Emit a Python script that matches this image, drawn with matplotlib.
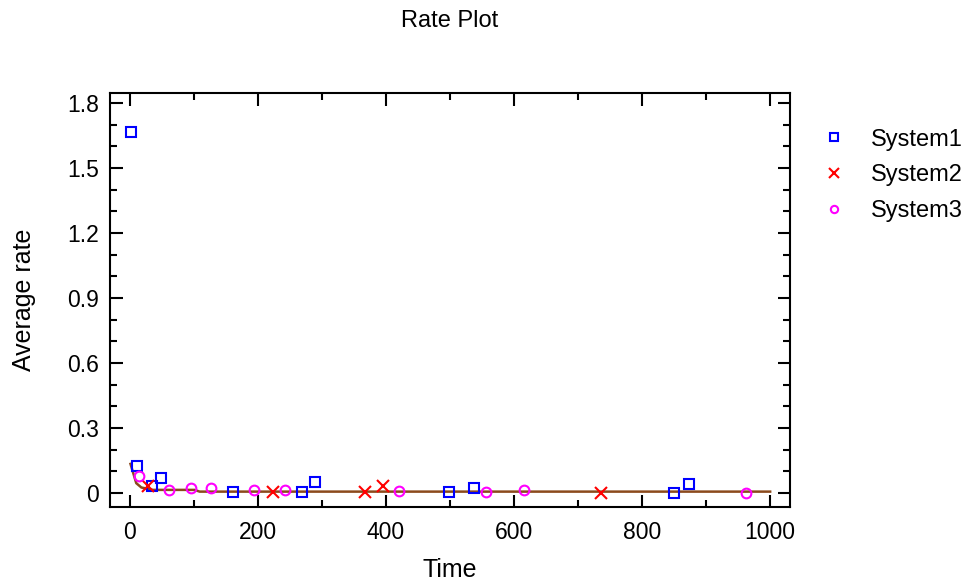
import matplotlib
matplotlib.use("Agg")
import matplotlib.pyplot as plt
from matplotlib.ticker import MultipleLocator

plt.rcParams['font.family'] = ['Liberation Sans', 'DejaVu Sans']

# data
sys1_time = [2, 11, 34, 48, 161, 269, 289, 498, 538, 850, 873]
sys1_rate = [1.667, 0.125, 0.034, 0.070, 0.006, 0.006, 0.050, 0.006, 0.025, 0.0, 0.042]

sys2_time = [29, 223, 367, 395, 736]
sys2_rate = [0.034, 0.003, 0.003, 0.032, 0.0]

sys3_time = [14, 61, 95, 127, 194, 242, 420, 557, 616, 963]
sys3_rate = [0.078, 0.014, 0.023, 0.023, 0.015, 0.014, 0.008, 0.006, 0.014, 0.0]

fit_time = [1, 10, 18, 36, 101, 109, 1000]
fit_rate = [0.134, 0.045, 0.025, 0.014, 0.014, 0.006, 0.006]

fig = plt.figure(figsize=(9.68, 5.84), dpi=100)
ax = fig.add_axes([110 / 968, 1 - 507 / 584, 680 / 968, 414 / 584])

ax.plot(fit_time, fit_rate, color='#8B4A1C', lw=1.8, zorder=2)
ax.plot(sys1_time, sys1_rate, ls='none', marker='s', ms=7, mfc='none',
        mec='#0000FF', mew=1.5, label='System1', zorder=3)
ax.plot(sys2_time, sys2_rate, ls='none', marker='x', ms=9, mec='#FF0000',
        mew=1.5, label='System2', zorder=3)
ax.plot(sys3_time, sys3_rate, ls='none', marker='o', ms=7, mfc='none',
        mec='#FF00FF', mew=1.5, label='System3', zorder=3)

ax.set_xlim(-31, 1031)
ax.set_ylim(-0.065, 1.846)
ax.xaxis.set_major_locator(MultipleLocator(200))
ax.xaxis.set_minor_locator(MultipleLocator(100))
ax.yaxis.set_major_locator(MultipleLocator(0.3))
ax.yaxis.set_minor_locator(MultipleLocator(0.1))
ax.yaxis.set_major_formatter(lambda v, p: '0' if abs(v) < 1e-9 else f'{v:.1f}')

ax.tick_params(which='both', direction='in', top=True, right=True,
               labelsize=16.5, width=1.5)
ax.tick_params(axis='x', pad=10)
ax.tick_params(axis='y', pad=8)
ax.tick_params(which='major', length=9)
ax.tick_params(which='minor', length=5)
for s in ax.spines.values():
    s.set_linewidth(1.5)

ax.set_xlabel('Time', fontsize=18, labelpad=10)
ax.set_ylabel('Average rate', fontsize=18, labelpad=22)
fig.text(450 / 968, 1 - 21 / 584, 'Rate Plot', ha='center', va='center', fontsize=17)

ax.legend(loc='upper left', bbox_to_anchor=(1.012, 0.965), frameon=False,
          fontsize=17, handletextpad=1.0, labelspacing=0.58, handlelength=1.2,
          markerscale=0.75)

fig.savefig('out.png', dpi=100)
